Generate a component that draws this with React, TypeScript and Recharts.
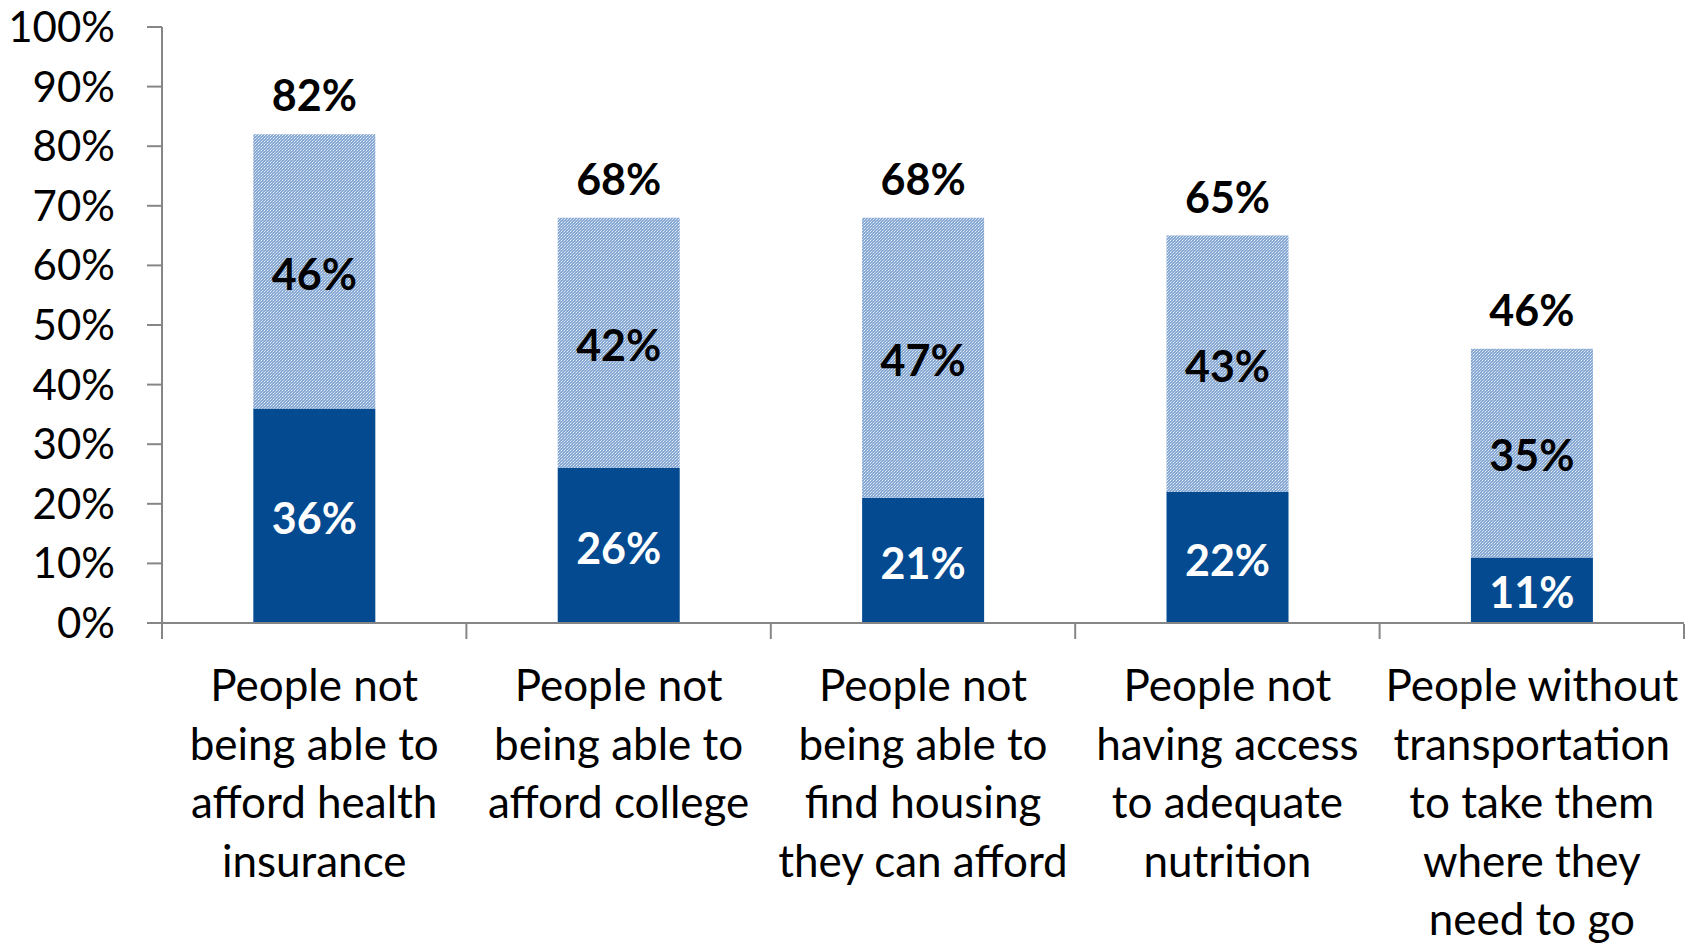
import React from 'react';
import { BarChart, Bar, XAxis, YAxis, LabelList } from 'recharts';

const categories = [
  ['People not', 'being able to', 'afford health', 'insurance'],
  ['People not', 'being able to', 'afford college'],
  ['People not', 'being able to', 'find housing', 'they can afford'],
  ['People not', 'having access', 'to adequate', 'nutrition'],
  ['People without', 'transportation', 'to take them', 'where they', 'need to go'],
];
const darkValues = [36, 26, 21, 22, 11];
const lightValues = [46, 42, 47, 43, 35];
const totals = [82, 68, 68, 65, 46];
const yTicks = [0, 10, 20, 30, 40, 50, 60, 70, 80, 90, 100];
const boundaryTicks = [0, 1, 2, 3, 4, 5];

const data = categories.map((lines, i) => ({
  name: String(i),
  pos: i + 0.5,
  dark: darkValues[i],
  light: lightValues[i],
  total: totals[i],
}));

const FONT = 'Lato, "Open Sans", sans-serif';
const AXIS = '#868686';

const CategoryTick = (props: any) => {
  const { x, y, payload } = props;
  const lines = categories[Number(payload.value)] || [];
  return (
    <text x={x} y={y} textAnchor="middle" fontFamily={FONT} fontSize={44} fill="#000">
      {lines.map((l, i) => (
        <tspan key={i} x={x} y={y + 70 + i * 58.6}>
          {l}
        </tspan>
      ))}
    </text>
  );
};

const EmptyTick = () => <g />;

export default function App() {
  return (
    <div style={{ position: 'absolute', left: 0, top: 0, width: 1701, height: 943, background: '#fff' }}>
      <BarChart
        width={1701}
        height={943}
        data={data}
        margin={{ top: 27, right: 17, bottom: 318, left: 0 }}
        barCategoryGap="30%"
      >
        <defs>
          <pattern id="dots" width="3" height="3" patternUnits="userSpaceOnUse">
            <rect width="3" height="3" fill="#86A8D3" />
            <rect x="0" y="0" width="1" height="1" fill="#E6EEF8" />
            <rect x="2" y="1" width="1" height="1" fill="#B4CAE6" />
            <rect x="1" y="2" width="1" height="1" fill="#CFDCEE" />
          </pattern>
        </defs>
        <XAxis
          dataKey="name"
          height={1}
          tickLine={false}
          axisLine={{ stroke: AXIS, strokeWidth: 2 }}
          tick={<CategoryTick />}
          interval={0}
        />
        <XAxis
          xAxisId="bounds"
          type="number"
          dataKey="pos"
          domain={[0, 5]}
          ticks={boundaryTicks}
          allowDataOverflow
          interval={0}
          height={1}
          tick={<EmptyTick />}
          tickSize={15}
          tickLine={{ stroke: AXIS, strokeWidth: 2 }}
          axisLine={false}
        />
        <YAxis
          width={162}
          domain={[0, 100]}
          ticks={yTicks}
          tickFormatter={(v: number) => `${v}%`}
          tickSize={15}
          tickMargin={32}
          tickLine={{ stroke: AXIS, strokeWidth: 2 }}
          axisLine={{ stroke: AXIS, strokeWidth: 2 }}
          tick={{ fontFamily: FONT, fontSize: 42, fill: '#000' }}
          interval={0}
        />
        <Bar dataKey="dark" stackId="a" fill="#034A91" isAnimationActive={false}>
          <LabelList
            dataKey="dark"
            position="center"
            formatter={(v: any) => `${v}%`}
            fill="#fff"
            fontFamily={FONT}
            fontSize={43}
            fontWeight="bold"
            dy={3}
          />
        </Bar>
        <Bar dataKey="light" stackId="a" fill="url(#dots)" isAnimationActive={false}>
          <LabelList
            dataKey="light"
            position="center"
            formatter={(v: any) => `${v}%`}
            fill="#000"
            fontFamily={FONT}
            fontSize={43}
            fontWeight="bold"
            dy={3}
          />
          <LabelList
            dataKey="total"
            position="top"
            offset={23}
            formatter={(v: any) => `${v}%`}
            fill="#000"
            fontFamily={FONT}
            fontSize={43}
            fontWeight="bold"
          />
        </Bar>
      </BarChart>
    </div>
  );
}
